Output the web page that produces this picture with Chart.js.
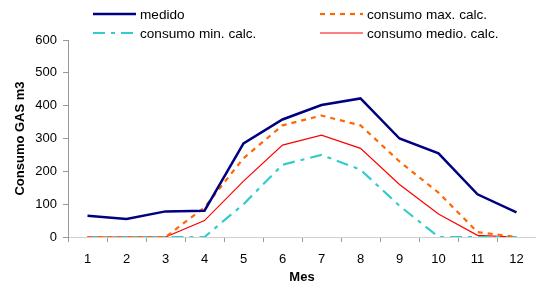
<!DOCTYPE html>
<html>
<head>
<meta charset="utf-8">
<script src="https://cdn.jsdelivr.net/npm/chart.js@4.4.1/dist/chart.umd.min.js"></script>
<style>
  html, body { margin: 0; padding: 0; background: #fff; }
  #wrap { width: 536px; height: 285px; position: relative; }
</style>
</head>
<body>
<div id="wrap"><canvas id="chart"></canvas></div>
<script>
var meses = ['1', '2', '3', '4', '5', '6', '7', '8', '9', '10', '11', '12']
var medido = [65, 55, 78, 80, 285, 358, 402, 422, 300, 255, 130, 75]
var consumoMax = [0, 0, 0, 90, 240, 340, 370, 340, 230, 135, 15, 0]
var consumoMin = [0, 0, 0, 0, 100, 220, 250, 205, 95, 0, 0, 0]
var consumoMedio = [0, 0, 0, 50, 170, 280, 310, 270, 160, 70, 5, 0]
var yTicks = [0, 100, 200, 300, 400, 500, 600]

var FONT = 'Liberation Sans, Arial, sans-serif'

// legend drawn in two fixed columns like the original
var legendPlugin = {
  id: 'twoColLegend',
  afterDraw(chart) {
    var ctx = chart.ctx
    var cols = [93, 320]
    var rows = [14, 33]
    // order: medido, max (row 1), min, medio (row 2)
    var slots = [[0, 0, 0], [1, 1, 0], [2, 0, 1], [3, 1, 1]]
    ctx.save()
    ctx.font = '13.6px ' + FONT
    ctx.textBaseline = 'middle'
    slots.forEach((s) => {
      var ds = chart.data.datasets[s[0]]
      var x = cols[s[1]]
      var y = rows[s[2]]
      ctx.strokeStyle = ds.borderColor
      ctx.lineWidth = ds.borderWidth
      ctx.setLineDash(ds.borderDash || [])
      ctx.beginPath()
      ctx.moveTo(x, y)
      ctx.lineTo(x + 43, y)
      ctx.stroke()
      ctx.setLineDash([])
      ctx.fillStyle = '#000'
      ctx.fillText(ds.label, x + 47, y + 1)
    })
    ctx.restore()
  }
}

new Chart(document.getElementById('chart'), {
  type: 'line',
  data: {
    labels: meses,
    datasets: [{
      label: 'medido',
      data: medido,
      borderColor: '#000080',
      borderWidth: 2.5
    }, {
      label: 'consumo max. calc.',
      data: consumoMax,
      borderColor: '#FF6600',
      borderWidth: 2.2,
      borderDash: [5, 5]
    }, {
      label: 'consumo min. calc.',
      data: consumoMin,
      borderColor: '#33CCCC',
      borderWidth: 2.2,
      borderDash: [12, 6, 4, 6]
    }, {
      label: 'consumo medio. calc.',
      data: consumoMedio,
      borderColor: '#FF0000',
      borderWidth: 1.2
    }]
  },
  options: {
    responsive: true,
    maintainAspectRatio: false,
    animation: false,
    layout: { padding: { top: 40, right: 0, left: 0, bottom: 0 } },
    elements: {
      point: { radius: 0 },
      line: { tension: 0, fill: false, borderCapStyle: 'butt' }
    },
    plugins: {
      legend: { display: false },
      tooltip: { enabled: false }
    },
    scales: {
      x: {
        offset: true,
        grid: { offset: true, drawOnChartArea: false, drawTicks: true, tickLength: 5, color: '#999' },
        border: { color: '#d0d0d0' },
        ticks: { color: '#000', font: { family: FONT, size: 13 }, padding: 10, maxRotation: 0 },
        title: { display: true, text: 'Mes', color: '#000', font: { family: FONT, size: 13, weight: 'bold' }, padding: { top: 2, bottom: 0 } },
        afterFit(scale) { scale.height = 48 }
      },
      y: {
        min: 0,
        max: 600,
        afterBuildTicks(scale) { scale.ticks = yTicks.map((v) => ({ value: v })) },
        grid: { drawOnChartArea: false, drawTicks: true, tickLength: 5, color: '#999' },
        border: { color: '#999' },
        ticks: { color: '#000', font: { family: FONT, size: 13 }, padding: 6 },
        title: { display: true, text: 'Consumo GAS m3', color: '#000', font: { family: FONT, size: 13, weight: 'bold' }, padding: { top: 13, bottom: 0 } },
        afterFit(scale) { scale.width = 68 }
      }
    }
  },
  plugins: [legendPlugin]
})
</script>
</body>
</html>
